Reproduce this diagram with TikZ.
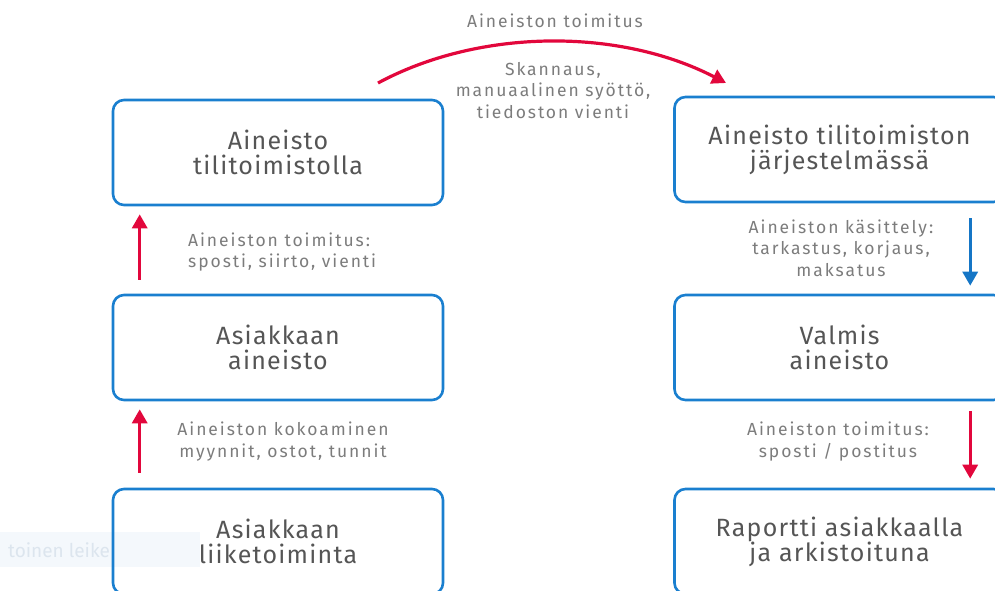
\documentclass[tikz,border=0pt]{standalone}
\usepackage{fontspec}
\setmainfont{Fira Sans}
\usetikzlibrary{arrows.meta,calc}
\definecolor{boxblue}{HTML}{1A7FCF}
\definecolor{arrred}{HTML}{E2073C}
\definecolor{arrblue}{HTML}{1576C6}
\definecolor{boxtxt}{HTML}{555555}
\definecolor{labtxt}{HTML}{7C7C7C}
\definecolor{faintbg}{HTML}{F4F8FC}
\definecolor{fainttxt}{HTML}{DCE5EE}
\tikzset{
  stepbox/.style={draw=boxblue, line width=2.6pt, rounded corners=11pt,
    minimum width=330pt, minimum height=105pt, align=center,
    text=boxtxt, font=\fontsize{25}{25}\selectfont\addfontfeatures{LetterSpace=5}, inner sep=0pt},
  lab/.style={align=center, text=labtxt, font=\fontsize{17.5}{21.5}\selectfont\addfontfeatures{LetterSpace=11}, inner sep=0pt},
  redarr/.style={draw=arrred, line width=3.2pt, -{Triangle[width=15pt,length=14pt]}},
  bluearr/.style={draw=arrblue, line width=3.2pt, -{Triangle[width=15pt,length=14pt]}}
}
\begin{document}
\begin{tikzpicture}[x=1pt,y=-1pt]
\useasboundingbox (0,0) rectangle (995,590);
\clip (0,0) rectangle (995,590);
% faint background artefact
\fill[faintbg] (0,532) rectangle (200,567);
\node[text=fainttxt, font=\fontsize{19}{20}\selectfont, anchor=west, inner sep=0pt] (faint) at (8,550) {toinen leike};
% boxes
\node[stepbox] (lt) at (278,152.5) {Aineisto\\tilitoimistolla};
\node[stepbox] (lm) at (278,347.5) {Asiakkaan\\aineisto};
\node[stepbox] (lb) at (278,541.5) {Asiakkaan\\liiketoiminta};
\node[stepbox] (rt) at (839.5,149.5) {Aineisto tilitoimiston\\järjestelmässä};
\node[stepbox] (rm) at (839.5,347.5) {Valmis\\aineisto};
\node[stepbox] (rb) at (839.5,541.5) {Raportti asiakkaalla\\ja arkistoituna};
% labels
\node[lab] (ltop) at (555,21) {Aineiston toimitus};
\node[lab] (lskan) at (553,90.5) {Skannaus,\\manuaalinen syöttö,\\tiedoston vienti};
\node[lab, align=left, anchor=west] (l1) at (188,252) {Aineiston toimitus:\\sposti, siirto, vienti};
\node[lab] (l2) at (283,441.5) {Aineiston kokoaminen\\myynnit, ostot, tunnit};
\node[lab] (r1) at (841,248) {Aineiston käsittely:\\tarkastus, korjaus,\\maksatus};
\node[lab] (r2) at (838,441.5) {Aineiston toimitus:\\sposti / postitus};
% arrows
\draw[redarr] ($(lm.north west)+(28,-14)$) -- ($(lt.south west)+(28,8)$);
\draw[redarr] ($(lb.north west)+(28,-15)$) -- ($(lm.south west)+(28,8)$);
\draw[bluearr] ($(rt.south west)+(297,15)$) -- ($(rm.north west)+(297,-8)$);
\draw[redarr] ($(rm.south west)+(297,10)$) -- ($(rb.north west)+(297,-9)$);
\coordinate (arcs) at (378,83);
\coordinate (arce) at (726,83);
\draw[redarr] (arcs) .. controls (480,28) and (620,28) .. (arce);
\end{tikzpicture}
\end{document}
